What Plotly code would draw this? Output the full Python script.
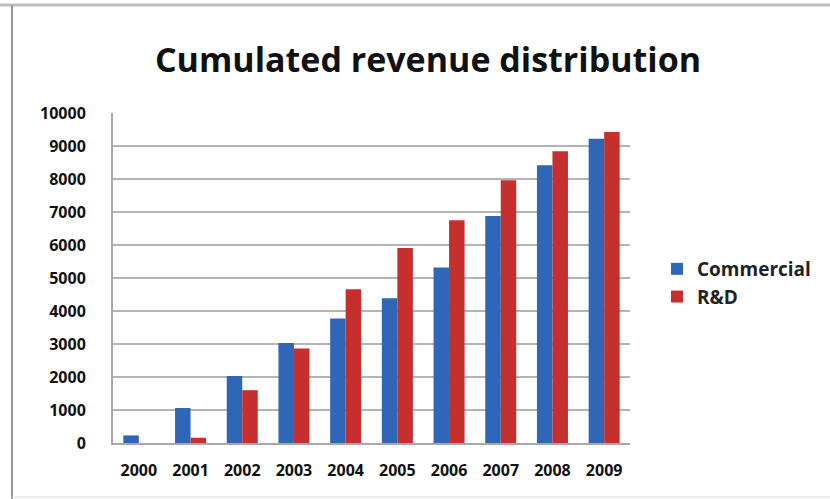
import plotly.graph_objects as go

years = ["2000", "2001", "2002", "2003", "2004", "2005", "2006", "2007", "2008", "2009"]
commercial = [230, 1060, 2030, 3030, 3770, 4390, 5315, 6880, 8415, 9220]
rnd = [0, 160, 1600, 2860, 4660, 5910, 6750, 7960, 8840, 9425]
y_ticks = [0, 1000, 2000, 3000, 4000, 5000, 6000, 7000, 8000, 9000, 10000]

FONT = "Open Sans"

fig = go.Figure()
fig.add_trace(go.Bar(x=years, y=commercial, name="Commercial",
                     marker=dict(color="#2f66b8", line=dict(width=0))))
fig.add_trace(go.Bar(x=years, y=rnd, name="R&D",
                     marker=dict(color="#c52f2e", line=dict(width=0))))

L, R, T, B = 113, 200, 113, 56
W, H = 830, 499
pw, ph = W - L - R, H - T - B

def px_x(x):
    return (x - L) / pw

def px_y(y):
    return (H - B - y) / ph

fig.update_layout(
    width=W, height=H,
    margin=dict(l=L, r=R, t=T, b=B),
    paper_bgcolor="white", plot_bgcolor="white",
    barmode="group", bargap=0.4, bargroupgap=0,
    title=dict(text="Cumulated revenue distribution",
               font=dict(family=FONT, size=34, color="#111", weight="bold"),
               x=px_x(428), xref="paper", xanchor="center",
               y=1 - 60 / H, yanchor="middle"),
    legend=dict(x=px_x(657), y=px_y(283), xanchor="left", yanchor="middle",
                font=dict(family=FONT, size=19, color="#222", weight="bold"),
                itemsizing="constant",
                bgcolor="rgba(0,0,0,0)"),
    font=dict(family=FONT, color="#111"),
    xaxis=dict(type="category",
               tickfont=dict(family=FONT, size=16, color="#111", weight="bold"),
               showline=True, linecolor="#a8a8a8", linewidth=2,
               ticks="", ticklabelstandoff=12, showgrid=False),
    yaxis=dict(range=[0, 10000], tickvals=y_ticks,
               tickfont=dict(family=FONT, size=16, color="#111", weight="bold"),
               showgrid=True, gridcolor="#b4b4b4", gridwidth=2,
               showline=True, linecolor="#a8a8a8", linewidth=2,
               ticks="", ticklabelstandoff=22, zeroline=False,
               tickformat="d"),
    shapes=[
        # outer chart frame
        dict(type="line", xref="paper", yref="paper",
             x0=px_x(0), x1=px_x(W), y0=px_y(5), y1=px_y(5),
             line=dict(color="#bdbdbd", width=3)),
        dict(type="line", xref="paper", yref="paper",
             x0=px_x(12), x1=px_x(12), y0=px_y(5), y1=px_y(H),
             line=dict(color="#9a9a9a", width=2)),
        dict(type="line", xref="paper", yref="paper",
             x0=px_x(12), x1=px_x(W), y0=px_y(497), y1=px_y(497),
             line=dict(color="#d8d8d8", width=1)),
    ],
)

fig.write_html("out.html")
